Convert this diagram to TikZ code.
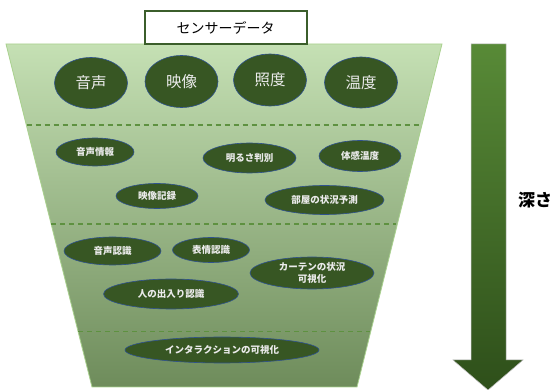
\documentclass[tikz,border=0pt]{standalone}
\usepackage{fontspec}
\setmainfont{Noto Sans CJK JP}
\usetikzlibrary{shapes.geometric}
\definecolor{ellfill}{HTML}{375623}
\definecolor{ellline}{HTML}{2F528F}
\definecolor{trapline}{HTML}{A9D18E}
\definecolor{traptop}{HTML}{C5E0B4}
\definecolor{trapbot}{HTML}{6E8C5B}
\definecolor{dashcol}{HTML}{5E9140}
\definecolor{boxline}{HTML}{3B5E2B}
\definecolor{arrtop}{HTML}{588A37}
\definecolor{arrbot}{HTML}{2E4F1A}
\tikzset{
  big/.style={ellipse, fill=ellfill, draw=ellline, line width=0.6pt, inner sep=0pt,
    text=white!92!black, font=\fontsize{15.5}{17}\selectfont},
  small/.style={ellipse, fill=ellfill, draw=ellline, line width=0.6pt, inner sep=0pt,
    text=white!92!black, font=\fontsize{9.5}{11}\selectfont\bfseries, align=center},
  layerline/.style={draw=dashcol, line width=1.2pt, dash pattern=on 5pt off 4pt},
}
\begin{document}
\begin{tikzpicture}[x=1pt,y=-1pt]
\useasboundingbox (0,0) rectangle (555,390);
% funnel
\coordinate (tl) at (6,44);
\coordinate (tr) at (442,44);
\coordinate (br) at (357,387);
\coordinate (bl) at (92,387);
\shade[top color=traptop, bottom color=trapbot, draw=trapline, line width=0.8pt]
  (tl) -- (tr) -- (br) -- (bl) -- cycle;
% dashed layer lines
\coordinate (d1l) at (26.5,125); \coordinate (d1r) at (421.5,125);
\coordinate (d2l) at (51,224);   \coordinate (d2r) at (396,224);
\coordinate (d3l) at (78,331.5); \coordinate (d3r) at (370,331.5);
\draw[layerline] (d1l) -- (d1r);
\draw[layerline] (d2l) -- (d2r);
\draw[layerline] (d3l) -- (d3r);
% title box
\node[draw=boxline, fill=white, line width=2pt, minimum width=162pt, minimum height=33pt,
  inner sep=0pt, font=\fontsize{14}{16}\selectfont] (title) at (225.5,28) {センサーデータ};
% row 1
\node[big, minimum width=73pt, minimum height=51pt] (e1) at (91,83) {音声};
\node[big, minimum width=73pt, minimum height=52pt] (e2) at (181.5,81.5) {映像};
\node[big, minimum width=73pt, minimum height=52pt] (e3) at (270,80) {照度};
\node[big, minimum width=73pt, minimum height=51pt] (e4) at (361,82.5) {温度};
% row 2
\node[small, minimum width=78pt, minimum height=28pt] (f1) at (95,152) {音声情報};
\node[small, minimum width=93pt, minimum height=30pt] (f2) at (249.5,158) {明るさ判別};
\node[small, minimum width=82pt, minimum height=31pt] (f3) at (360,156) {体感温度};
\node[small, minimum width=82pt, minimum height=25pt] (f4) at (157,196) {映像記録};
\node[small, minimum width=119pt, minimum height=29pt] (f5) at (324.5,200) {部屋の状況予測};
% row 3
\node[small, minimum width=97pt, minimum height=28pt] (g1) at (112.5,251) {音声認識};
\node[small, minimum width=77pt, minimum height=25pt] (g2) at (211,250) {表情認識};
\node[small, minimum width=124pt, minimum height=32pt, font=\fontsize{9.5}{11.5}\selectfont\bfseries] (g3) at (312,273) {カーテンの状況\\可視化};
\node[small, minimum width=135pt, minimum height=30pt] (g4) at (171,294) {人の出入り認識};
% row 4
\node[small, minimum width=194pt, minimum height=26pt] (h1) at (222,350) {インタラクションの可視化};
% depth arrow
\coordinate (a1) at (471,44);
\coordinate (a2) at (506,44);
\coordinate (a3) at (506,360);
\coordinate (a4) at (523,360);
\coordinate (a5) at (488,390);
\coordinate (a6) at (453,360);
\coordinate (a7) at (471,360);
\shade[top color=arrtop, bottom color=arrbot, draw=black!25, line width=0.5pt]
  (a1) -- (a2) -- (a3) -- (a4) -- (a5) -- (a6) -- (a7) -- cycle;
\node[anchor=west, inner sep=0pt, font=\fontsize{17}{19}\selectfont\bfseries] (depth) at (518,200) {深さ};
\end{tikzpicture}
\end{document}
